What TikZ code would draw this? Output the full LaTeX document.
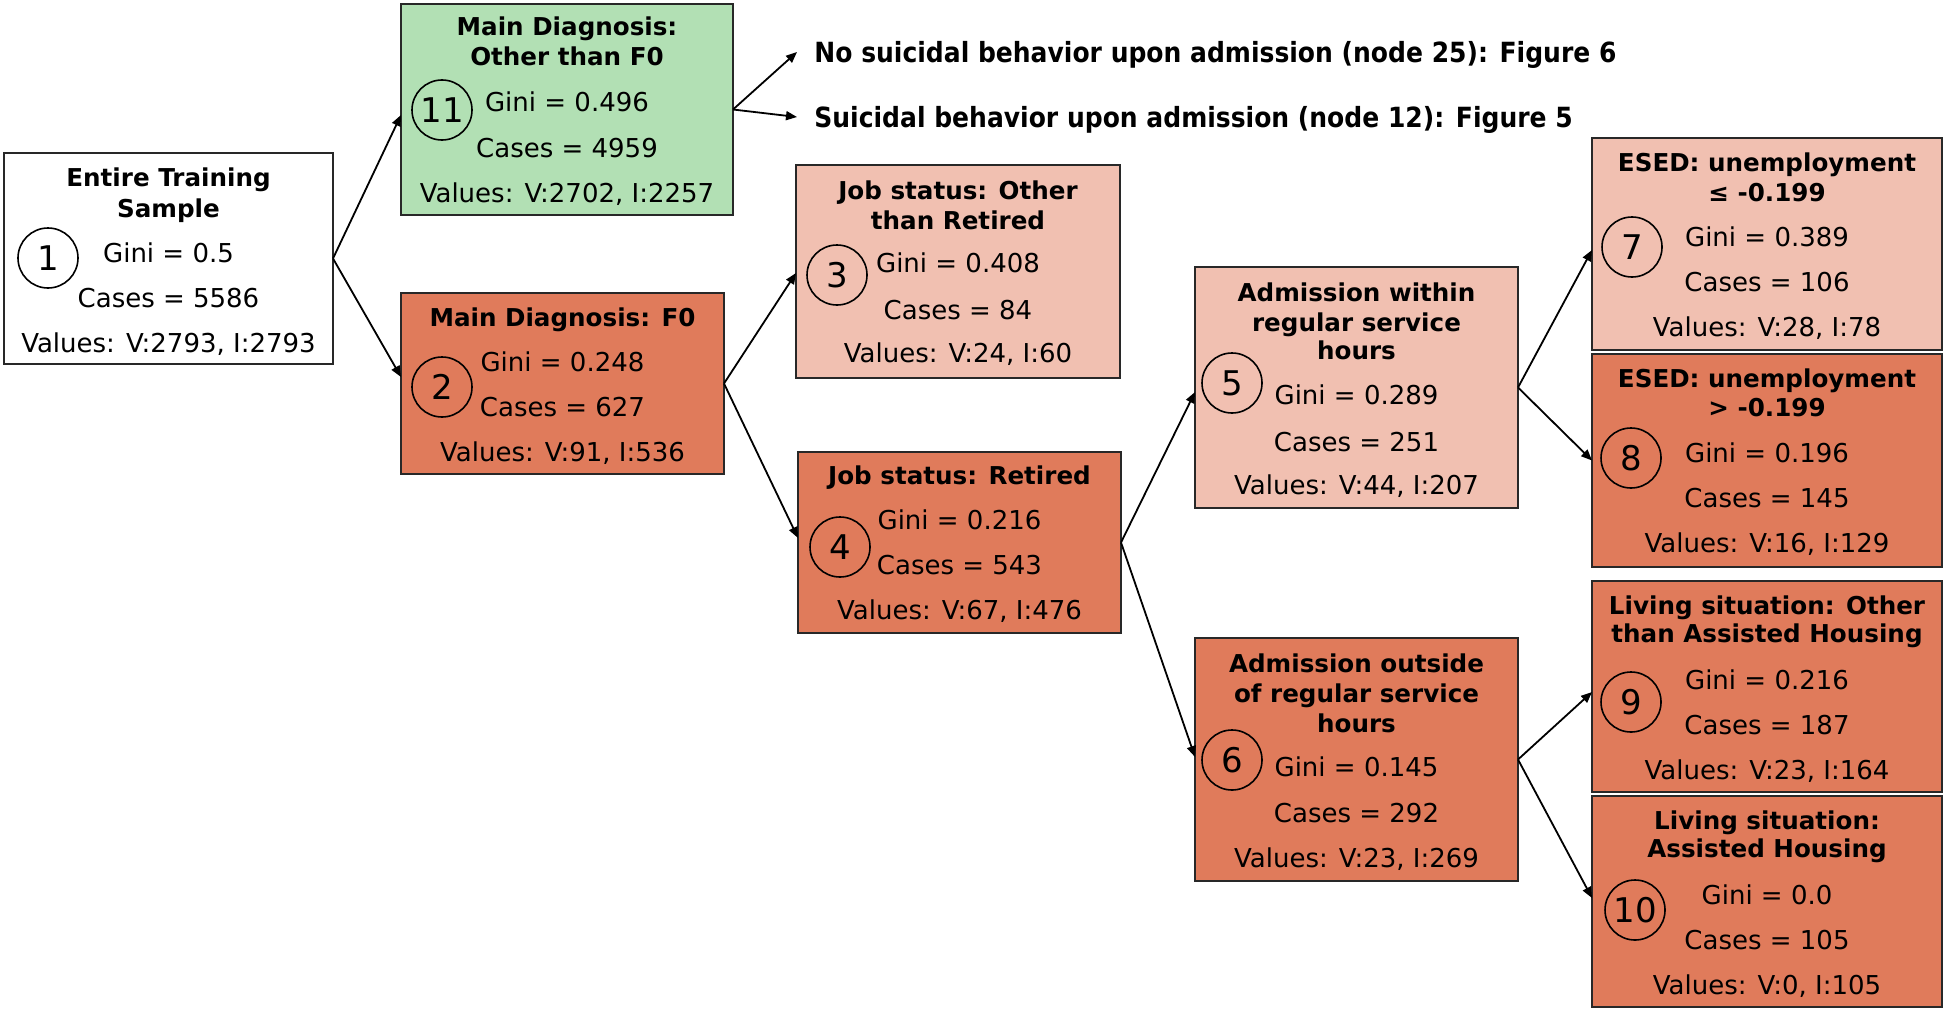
\documentclass[tikz,border=0pt]{standalone}
\usepackage{fontspec}
\setmainfont{DejaVu Sans}
\newfontfamily\condfont[FakeStretch=0.9]{DejaVu Sans Bold}
\usetikzlibrary{arrows.meta,calc}
\definecolor{gfill}{RGB}{178,224,180}
\definecolor{lfill}{RGB}{241,192,177}
\definecolor{dfill}{RGB}{224,123,91}
\definecolor{edgec}{RGB}{40,40,40}
\tikzset{
  box/.style={draw=edgec, line width=1pt, inner sep=0pt, outer sep=0pt},
  ttl/.style={font=\fontsize{12.3}{14}\selectfont\bfseries, inner sep=0pt, text height=9pt, text depth=0pt},
  val/.style={font=\fontsize{13}{15}\selectfont, inner sep=0pt, text height=9.4pt, text depth=0pt},
  num/.style={circle, draw=black, line width=0.8pt, minimum size=30pt, inner sep=0pt, font=\fontsize{17}{20}\selectfont, text height=12.4pt, text depth=0pt},
  arr/.style={-{Triangle[length=5.5pt,width=4.5pt]}, line width=0.9pt, black},
  lbl/.style={font=\condfont\fontsize{13.9}{16}\selectfont, inner xsep=8.5pt, inner ysep=0pt, text height=10.1pt, text depth=0pt, anchor=west}
}
\begin{document}
\begin{tikzpicture}[x=0.5pt,y=-0.5pt]
\useasboundingbox (0,0) rectangle (1946,1011);

% boxes
\node[box, fill=white, minimum width=164.5pt, minimum height=105.5pt] (n1) at (168.5,258.5) {};
\node[box, fill=gfill, minimum width=166pt, minimum height=105.5pt] (n11) at (567,109.5) {};
\node[box, fill=dfill, minimum width=161.5pt, minimum height=90.5pt] (n2) at (562.5,383.5) {};
\node[box, fill=lfill, minimum width=162pt, minimum height=106.5pt] (n3) at (958,271.5) {};
\node[box, fill=dfill, minimum width=161.5pt, minimum height=90.5pt] (n4) at (959.5,542.5) {};
\node[box, fill=lfill, minimum width=161.5pt, minimum height=120.5pt] (n5) at (1356.5,387.5) {};
\node[box, fill=dfill, minimum width=161.5pt, minimum height=121.5pt] (n6) at (1356.5,759.5) {};
\node[box, fill=lfill, minimum width=175pt, minimum height=106pt] (n7) at (1767,244) {};
\node[box, fill=dfill, minimum width=175pt, minimum height=106.5pt] (n8) at (1767,460.5) {};
\node[box, fill=dfill, minimum width=175pt, minimum height=105.5pt] (n9) at (1767,686.5) {};
\node[box, fill=dfill, minimum width=175pt, minimum height=105.5pt] (n10) at (1767,901.5) {};

% node 1
\node[ttl] (n1ta) at (168.5,177) {Entire Training};
\node[ttl] (n1tb) at (168.5,208) {Sample};
\node[num] (c1) at (48,258) {1};
\node[val] (n1g) at (168.5,253) {Gini = 0.5};
\node[val] (n1c) at (168.5,298) {Cases = 5586};
\node[val] (n1v) at (168.5,343) {Values: V:2793, I:2793};

% node 11
\node[ttl] (n11ta) at (567,27) {Main Diagnosis:};
\node[ttl] (n11tb) at (567,57) {Other than F0};
\node[num] (c11) at (442,110) {11};
\node[val] (n11g) at (567,102) {Gini = 0.496};
\node[val] (n11c) at (567,148) {Cases = 4959};
\node[val] (n11v) at (567,193) {Values: V:2702, I:2257};

% node 2
\node[ttl] (n2ta) at (562.5,317) {Main Diagnosis: F0};
\node[num] (c2) at (442,387) {2};
\node[val] (n2g) at (562.5,362) {Gini = 0.248};
\node[val] (n2c) at (562.5,407) {Cases = 627};
\node[val] (n2v) at (562.5,452) {Values: V:91, I:536};

% node 3
\node[ttl] (n3ta) at (958,190) {Job status: Other};
\node[ttl] (n3tb) at (958,220) {than Retired};
\node[num] (c3) at (837,275) {3};
\node[val] (n3g) at (958,263) {Gini = 0.408};
\node[val] (n3c) at (958,310) {Cases = 84};
\node[val] (n3v) at (958,353) {Values: V:24, I:60};

% node 4
\node[ttl] (n4ta) at (959.5,475) {Job status: Retired};
\node[num] (c4) at (840,547) {4};
\node[val] (n4g) at (959.5,520) {Gini = 0.216};
\node[val] (n4c) at (959.5,565) {Cases = 543};
\node[val] (n4v) at (959.5,610) {Values: V:67, I:476};

% node 5
\node[ttl] (n5ta) at (1356.5,292) {Admission within};
\node[ttl] (n5tb) at (1356.5,322) {regular service};
\node[ttl] (n5tc) at (1356.5,350) {hours};
\node[num] (c5) at (1232,383) {5};
\node[val] (n5g) at (1356.5,395) {Gini = 0.289};
\node[val] (n5c) at (1356.5,442) {Cases = 251};
\node[val] (n5v) at (1356.5,485) {Values: V:44, I:207};

% node 6
\node[ttl] (n6ta) at (1356.5,663) {Admission outside};
\node[ttl] (n6tb) at (1356.5,693) {of regular service};
\node[ttl] (n6tc) at (1356.5,723) {hours};
\node[num] (c6) at (1232,760) {6};
\node[val] (n6g) at (1356.5,767) {Gini = 0.145};
\node[val] (n6c) at (1356.5,813) {Cases = 292};
\node[val] (n6v) at (1356.5,858) {Values: V:23, I:269};

% node 7
\node[ttl] (n7ta) at (1767,162) {ESED: unemployment};
\node[ttl] (n7tb) at (1767,192) {≤ -0.199};
\node[num] (c7) at (1632,247) {7};
\node[val] (n7g) at (1767,237) {Gini = 0.389};
\node[val] (n7c) at (1767,282) {Cases = 106};
\node[val] (n7v) at (1767,327) {Values: V:28, I:78};

% node 8
\node[ttl] (n8ta) at (1767,378) {ESED: unemployment};
\node[ttl] (n8tb) at (1767,407) {> -0.199};
\node[num] (c8) at (1631,458) {8};
\node[val] (n8g) at (1767,453) {Gini = 0.196};
\node[val] (n8c) at (1767,498) {Cases = 145};
\node[val] (n8v) at (1767,543) {Values: V:16, I:129};

% node 9
\node[ttl] (n9ta) at (1767,605) {Living situation: Other};
\node[ttl] (n9tb) at (1767,633) {than Assisted Housing};
\node[num] (c9) at (1631,702) {9};
\node[val] (n9g) at (1767,680) {Gini = 0.216};
\node[val] (n9c) at (1767,725) {Cases = 187};
\node[val] (n9v) at (1767,770) {Values: V:23, I:164};

% node 10
\node[ttl] (n10ta) at (1767,820) {Living situation:};
\node[ttl] (n10tb) at (1767,848) {Assisted Housing};
\node[num] (c10) at (1635,910) {10};
\node[val] (n10g) at (1767,895) {Gini = 0.0};
\node[val] (n10c) at (1767,940) {Cases = 105};
\node[val] (n10v) at (1767,985) {Values: V:0, I:105};

% labels
\node[lbl] (L1) at (797,52) {No suicidal behavior upon admission (node 25): Figure 6};
\node[lbl] (L2) at (797,117) {Suicidal behavior upon admission (node 12): Figure 5};

% connectors
\draw[arr] (n1.east) -- ($(n11.west)+(0,5.5)$);
\draw[arr] (n1.east) -- ($(n2.west)+(0,-6.5)$);
\draw[arr] (n11.east) -- (L1.west);
\draw[arr] (n11.east) -- (L2.west);
\draw[arr] (n2.east) -- ($(n3.west)+(0,1.5)$);
\draw[arr] (n2.east) -- ($(n4.west)+(0,-4.5)$);
\draw[arr] (n4.east) -- ($(n5.west)+(0,4.5)$);
\draw[arr] (n4.east) -- ($(n6.west)+(0,-2.5)$);
\draw[arr] (n5.east) -- ($(n7.west)+(0,6)$);
\draw[arr] (n5.east) -- ($(n8.west)+(0,0)$);
\draw[arr] (n6.east) -- ($(n9.west)+(0,5.5)$);
\draw[arr] (n6.east) -- ($(n10.west)+(0,-3.5)$);
\end{tikzpicture}
\end{document}
